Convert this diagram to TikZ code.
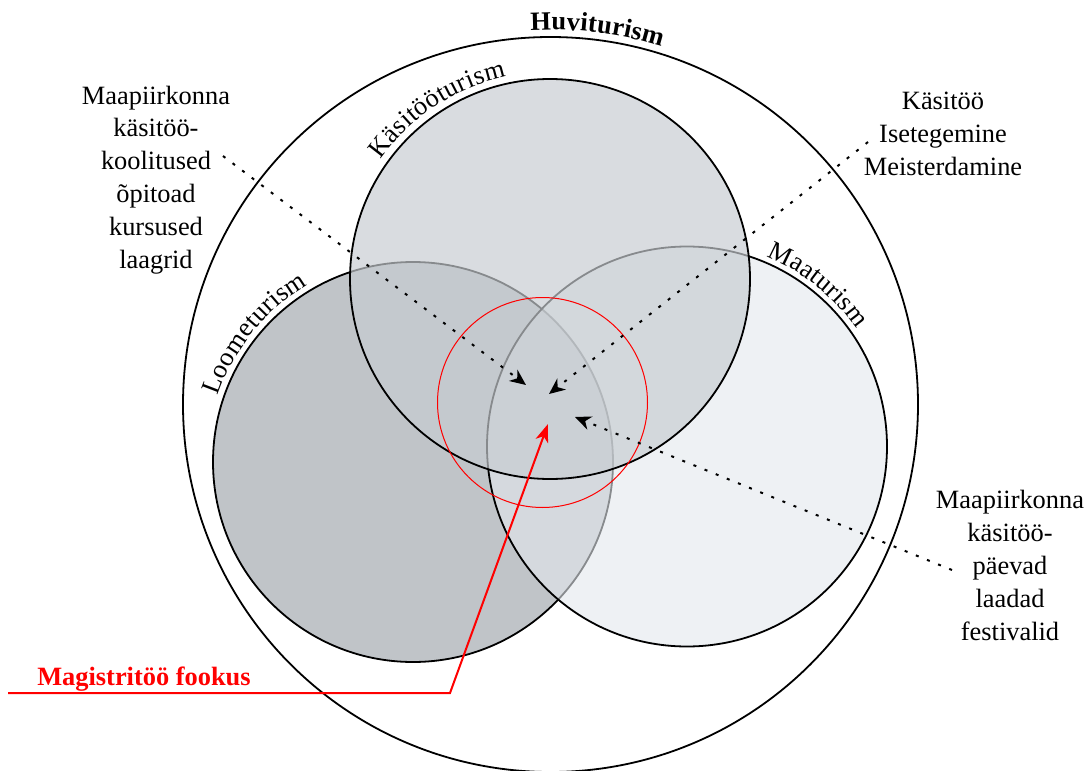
\documentclass[tikz,border=0pt]{standalone}
\usepackage{fontspec}
\setmainfont{Liberation Serif}
\usetikzlibrary{arrows.meta,decorations.text,positioning}
\definecolor{looColor}{RGB}{192,196,200}
\definecolor{maaColor}{RGB}{227,232,237}
\definecolor{kasColor}{RGB}{199,204,209}
\definecolor{focusRed}{RGB}{255,0,0}
\tikzset{
    ring/.style = {draw=black, line width=0.9pt},
    venn/.style = {draw=black, line width=0.9pt, fill=#1},
    note/.style = {align=center, anchor=base, inner sep=0pt},
    dotArrow/.style = {-{Stealth[length=8pt,width=7pt,inset=2.5pt]}, line width=1pt,
        dash pattern=on 1.5pt off 4.5pt},
    focusArrow/.style = {-{Stealth[length=9pt,width=6.5pt,inset=2.5pt]}, draw=focusRed, line width=1pt},
    arcLabel/.style = {decorate, decoration={text along path, text align=center, raise=#1}},
}

\begin{document}
\fontsize{13.2}{16.4}\selectfont
\begin{tikzpicture}[x=0.5pt, y=0.5pt]
	\useasboundingbox (0,0) rectangle (1088,-771);

	% circle centres
	\coordinate (bigC) at (550.5,-404.5);
	\coordinate (looC) at (413,-462);
	\coordinate (maaC) at (687,-446.5);
	\coordinate (kasC) at (550,-279);
	\coordinate (focusC) at (542.5,-402.5);

	% Huviturism
	\draw[ring] (bigC) circle[radius=367.5];
	\path[arcLabel=3.6pt, decoration={text={|\bfseries|Huviturism}}]
		(bigC) ++(102.9:367.5) arc[start angle=102.9, end angle=62.9, radius=367.5];

	% three overlapping circles
	\draw[venn=looColor] (looC) circle[radius=200];
	\draw[venn=maaColor, fill opacity=0.6] (maaC) circle[radius=200];
	\draw[venn=kasColor, fill opacity=0.68] (kasC) circle[radius=200];

	\path[arcLabel=3pt, decoration={text={Loometurism}}]
		(looC) ++(171:200) arc[start angle=171, end angle=111, radius=200];
	\path[arcLabel=3.5pt, decoration={text={Käsitööturism}}]
		(kasC) ++(158:200) arc[start angle=158, end angle=89, radius=200];
	\path[arcLabel=3pt, decoration={text={Maaturism}}]
		(maaC) ++(81:200) arc[start angle=81, end angle=21, radius=200];

	% focus circle
	\draw[focusRed, line width=0.5pt] (focusC) circle[radius=105];

	% notes (placed at the baseline of their last line)
	\node (koolNote) [note] at (156,-268) {Maapiirkonna\\käsitöö-\\koolitused\\õpitoad\\kursused\\laagrid};
	\node (kasitooNote) [note] at (943,-175) {Käsitöö\\Isetegemine\\Meisterdamine};
	\node (paevNote) [note] at (1010,-640) {Maapiirkonna\\käsitöö-\\päevad\\laadad\\festivalid};
	\node (focusLabel) [note, text=focusRed, font=\bfseries] at (144,-685) {Magistritöö fookus};

	% arrow ends
	\coordinate (koolStart) at (223,-156);
	\coordinate (koolEnd) at (526,-385);
	\coordinate (kasitooStart) at (868,-142);
	\coordinate (kasitooEnd) at (549,-394);
	\coordinate (paevStart) at (952,-570);
	\coordinate (paevEnd) at (575,-417);
	\coordinate (focusStart) at (8,-693);
	\coordinate (focusBend) at (450,-693);
	\coordinate (focusTip) at (548,-424);

	% edges
	\draw[dotArrow] (koolStart) -- (koolEnd);
	\draw[dotArrow] (kasitooStart) -- (kasitooEnd);
	\draw[dotArrow] (paevStart) -- (paevEnd);
	\draw[focusArrow] (focusStart) -- (focusBend) -- (focusTip);

\end{tikzpicture}
\end{document}
